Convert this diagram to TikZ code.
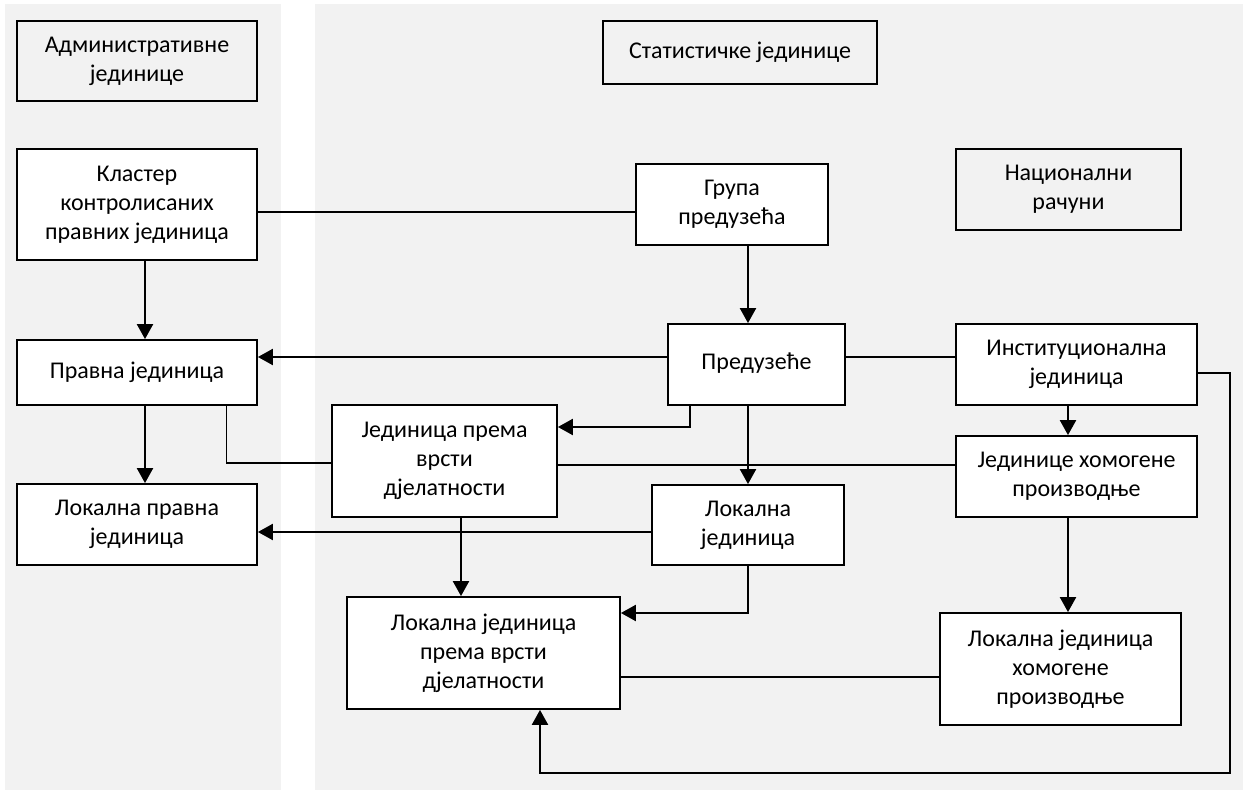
\documentclass[tikz,border=0pt]{standalone}
\usepackage{fontspec}
\setmainfont{Carlito}
\usetikzlibrary{arrows.meta}
\definecolor{panelgray}{HTML}{F2F2F2}
\tikzset{
  unitbox/.style={draw,rectangle,fill=white,line width=1.8pt,inner sep=0pt,align=center,
    font=\fontsize{24}{29}\selectfont},
  headbox/.style={unitbox,fill=panelgray},
  link/.style={line width=1.8pt},
  arrow/.style={line width=2.2pt,-{Triangle[length=15pt,width=16pt]}}
}
\begin{document}
\begin{tikzpicture}[x=1pt,y=-1pt]
\useasboundingbox (0,0) rectangle (1243,794);
%\draw [thick,red,dashed] (0,0) rectangle (1243,794);
\fill[panelgray] (5,4) rectangle (281,790);
\fill[panelgray] (315,4) rectangle (1243,790);

% administrative units
\node [headbox,minimum width=240pt,minimum height=80pt] (adm) at(137,61){Административне\\јединице};
\node [unitbox,minimum width=240pt,minimum height=111pt] (cluster) at(137,204.5){Кластер\\контролисаних\\правних јединица};
\node [unitbox,minimum width=240pt,minimum height=65pt] (legal) at(137,372.5){Правна јединица};
\node [unitbox,minimum width=240pt,minimum height=81pt] (loclegal) at(137,524.5){Локална правна\\јединица};

% statistical units
\node [headbox,minimum width=274pt,minimum height=63pt] (stat) at(740,52.5){\raisebox{5pt}{Статистичке јединице}};
\node [unitbox,minimum width=192pt,minimum height=81pt] (group) at(732,204.5){Група\\предузећа};
\node [unitbox,minimum width=177pt,minimum height=81pt] (ent) at(756.5,364.5){\raisebox{7pt}{Предузеће}};
\node [unitbox,minimum width=225pt,minimum height=112pt] (kau) at(444.5,461){Јединица према\\врсти\\дјелатности};
\node [unitbox,minimum width=192pt,minimum height=80pt] (local) at(748,525){Локална\\јединица};
\node [unitbox,minimum width=273pt,minimum height=112pt] (lkau) at(483.5,653){Локална јединица\\према врсти\\дјелатности};

% national accounts
\node [headbox,minimum width=225pt,minimum height=81pt] (nat) at(1068.5,189.5){Национални\\рачуни};
\node [unitbox,minimum width=241pt,minimum height=81pt] (inst) at(1076.5,364.5){Институционална\\јединица};
\node [unitbox,minimum width=241pt,minimum height=81pt] (uhp) at(1076.5,476.5){Јединице хомогене\\производње};
\node [unitbox,minimum width=241pt,minimum height=112pt] (luhp) at(1060.5,669){Локална јединица\\хомогене\\производње};

\coordinate (loopcorner) at(1230,773);

\draw[link]([yshift=-7.5pt]cluster.east) -- ([yshift=-7.5pt]cluster.east -| group.west);
\draw[arrow]([xshift=8pt]cluster.south) -- ([xshift=8pt]legal.north);
\draw[arrow]([xshift=8pt]legal.south) -- ([xshift=8pt]loclegal.north);
\draw[arrow]([xshift=16pt]group.south) -- ([xshift=16pt]group.south |- ent.north);
\draw[arrow]([yshift=7.5pt]ent.west) -- ([yshift=7.5pt]ent.west -| legal.east);
\draw[arrow]([xshift=-66.5pt]ent.south) |- ([yshift=34pt]kau.east);
\draw[arrow](ent.south -| local.north) -- (local.north);
\draw[link]([yshift=7.5pt]ent.east) -- ([yshift=7.5pt]ent.east -| inst.west);
\draw[arrow]([xshift=-8.5pt]inst.south) -- ([xshift=-8.5pt]uhp.north);
\draw[link]([xshift=89.5pt]legal.south) |- ([yshift=-2pt]kau.west);
\draw[link]([yshift=-4pt]kau.east) -- ([yshift=-4pt]kau.east -| uhp.west);
\draw[arrow]([xshift=16.5pt]kau.south) -- ([xshift=16.5pt]kau.south |- lkau.north);
\draw[arrow]([yshift=-7pt]local.west) -- ([yshift=-7pt]local.west -| loclegal.east);
\draw[arrow](local.south) |- ([yshift=40pt]lkau.east);
\draw[arrow]([xshift=-8.5pt]uhp.south) -- ([xshift=-8.5pt]uhp.south |- luhp.north);
\draw[link]([yshift=-24pt]lkau.east) -- ([yshift=-24pt]lkau.east -| luhp.west);
\draw[arrow]([yshift=-8.5pt]inst.east) -| (loopcorner) -| ([xshift=56.5pt]lkau.south);

\end{tikzpicture}
\end{document}
